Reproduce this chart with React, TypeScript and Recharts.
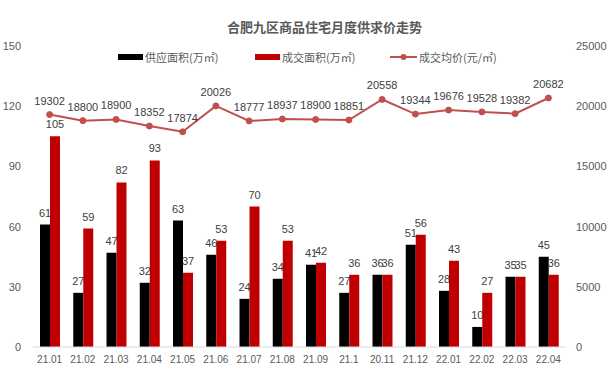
import React from "react";
import { ComposedChart, Bar, Line, XAxis, YAxis, LabelList } from "recharts";

const categories = ["21.01","21.02","21.03","21.04","21.05","21.06","21.07","21.08","21.09","21.1","20.11","21.12","22.01","22.02","22.03","22.04"];
const supplyArea = [61,27,47,32,63,46,24,34,41,27,36,51,28,10,35,45];
const dealArea = [105,59,82,93,37,53,70,53,42,36,36,56,43,27,35,36];
const avgPrice = [19302,18800,18900,18352,17874,20026,18777,18937,18900,18851,20558,19344,19676,19528,19382,20682];
const leftTicks = [0,30,60,90,120,150];
const rightTicks = [0,5000,10000,15000,20000,25000];
const seriesNames = ["供应面积(万㎡)", "成交面积(万㎡)", "成交均价(元/㎡)"];
const title = "合肥九区商品住宅月度供求价走势";

const data = categories.map((c, i) => ({
  name: c,
  supply: supplyArea[i],
  deal: dealArea[i],
  price: avgPrice[i],
}));

const FONT = "'Noto Sans CJK SC', 'Liberation Sans', sans-serif";
const NUMFONT = "'Liberation Sans', 'Noto Sans', sans-serif";

export default function App() {
  return (
    <div style={{ position: "absolute", left: 0, top: 0, width: 609, height: 392, background: "#fff", fontFamily: FONT }}>
      <div style={{ position: "absolute", left: 0, width: 649, top: 17, textAlign: "center", fontSize: 13, fontWeight: "bold", color: "#595959", lineHeight: "20px" }}>
        {title}
      </div>
      <div style={{ position: "absolute", left: 118, top: 49, height: 16, display: "flex", alignItems: "center", fontSize: 11, color: "#595959" }}>
        <span style={{ display: "inline-block", width: 25, height: 6, background: "#000000", marginRight: 2 }} />
        <span>{seriesNames[0]}</span>
      </div>
      <div style={{ position: "absolute", left: 255, top: 49, height: 16, display: "flex", alignItems: "center", fontSize: 11, color: "#595959" }}>
        <span style={{ display: "inline-block", width: 25, height: 6, background: "#C00000", marginRight: 2 }} />
        <span>{seriesNames[1]}</span>
      </div>
      <div style={{ position: "absolute", left: 390, top: 49, height: 16, display: "flex", alignItems: "center", fontSize: 11, color: "#595959" }}>
        <svg width={27} height={8} style={{ marginRight: 2 }}>
          <line x1={0} y1={4} x2={27} y2={4} stroke="#C0504D" strokeWidth={2} />
          <circle cx={13.5} cy={4} r={3} fill="#C0504D" />
        </svg>
        <span>{seriesNames[2]}</span>
      </div>
      <ComposedChart
        width={609}
        height={392}
        data={data}
        margin={{ top: 46, right: 0, bottom: 0, left: 0 }}
        barGap={0}
        barSize={10}
        style={{ position: "absolute", left: 0, top: 0 }}
      >
        <XAxis
          dataKey="name"
          height={45}
          axisLine={{ stroke: "#D9D9D9" }}
          tickLine={false}
          tickSize={0}
          tickMargin={9}
          tick={{ fill: "#595959", fontSize: 10, fontFamily: NUMFONT }}
          interval={0}
        />
        <YAxis
          yAxisId="left"
          width={33}
          domain={[0, 150]}
          ticks={leftTicks}
          axisLine={false}
          tickLine={false}
          tickSize={0}
          tickMargin={12}
          tick={{ fill: "#595959", fontSize: 11, fontFamily: NUMFONT }}
        />
        <YAxis
          yAxisId="right"
          orientation="right"
          width={44}
          domain={[0, 25000]}
          ticks={rightTicks}
          axisLine={false}
          tickLine={false}
          tickSize={0}
          tickMargin={11}
          tick={{ fill: "#595959", fontSize: 11, fontFamily: NUMFONT }}
        />
        <Bar yAxisId="left" dataKey="supply" fill="#000000" isAnimationActive={false}>
          <LabelList dataKey="supply" position="top" offset={8} fill="#404040" fontSize={11} fontFamily={NUMFONT} />
        </Bar>
        <Bar yAxisId="left" dataKey="deal" fill="#C00000" isAnimationActive={false}>
          <LabelList dataKey="deal" position="top" offset={8} fill="#404040" fontSize={11} fontFamily={NUMFONT} />
        </Bar>
        <Line
          yAxisId="right"
          dataKey="price"
          stroke="#C0504D"
          strokeWidth={2}
          dot={{ r: 3, fill: "#C0504D", stroke: "#C0504D", strokeWidth: 1 }}
          isAnimationActive={false}
        >
          <LabelList dataKey="price" position="top" offset={10} fill="#404040" fontSize={11} fontFamily={NUMFONT} />
        </Line>
      </ComposedChart>
    </div>
  );
}
